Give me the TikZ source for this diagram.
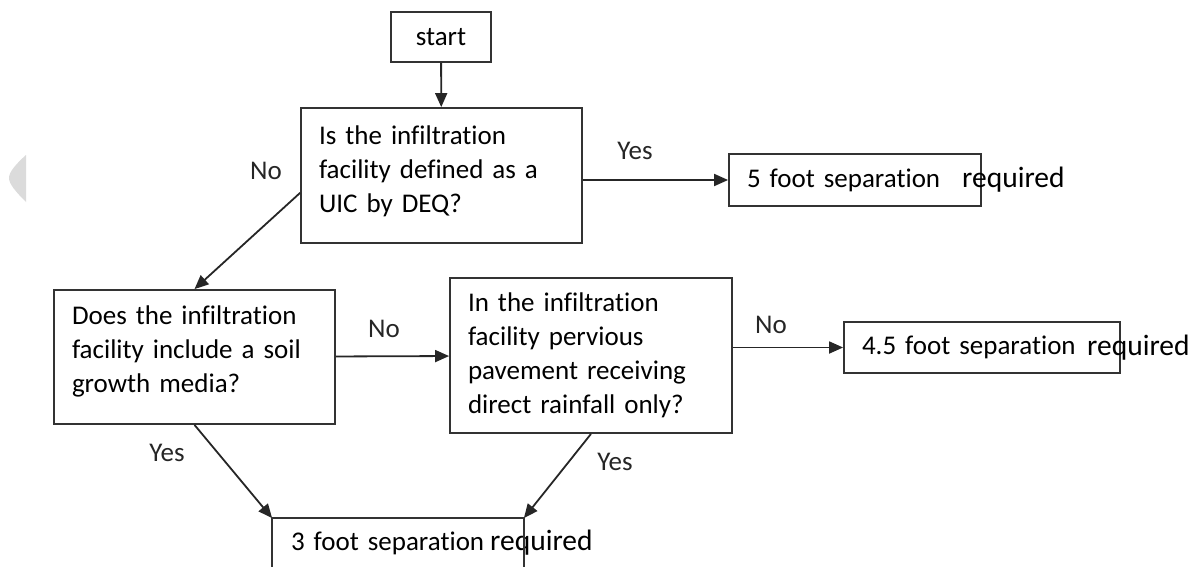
\documentclass[tikz,border=0pt]{standalone}
\usepackage{fontspec}
\setmainfont{Carlito}[Ligatures={NoCommon}]
\usepackage{tikz}
\usetikzlibrary{arrows.meta}

\begin{document}
\begin{tikzpicture}[x=1pt,y=-1pt,
	box/.style={draw=black!80,line width=1.8pt,align=left,inner xsep=18pt,inner ysep=0pt,font=\fontsize{27}{34}\selectfont},
	lift/.style={execute at end node={\endgraf\vspace*{#1}}},
	lbl/.style={inner sep=0pt,font=\fontsize{27}{34}\selectfont,text=black!85},
	req/.style={anchor=west,inner sep=0pt,font=\fontsize{29.5}{34}\selectfont},
	arr/.style={draw=black!85,line width=1.8pt,-{Triangle[length=14pt,width=12pt]}},
	]
	\useasboundingbox (0,0) rectangle (1201,567);
	\fill[black!14] (26,155) -- (26,202) .. controls (16,192) and (9,184) .. (9,178) .. controls (9,172) and (16,164) .. (26,155);

	\node[box,minimum width=100pt,minimum height=50pt,inner xsep=0pt,align=center] (S) at (441,37) {start};
	\node[box,lift=9pt,text width=245pt,minimum height=135pt] (Q1) at (441.5,175.5) {Is the infiltration\\facility defined as a\\UIC by DEQ?};
	\node[box,text width=216pt,minimum height=52pt] (R5) at (855,180) {5 foot separation};
	\node[box,lift=11pt,text width=245pt,minimum height=134pt] (Q2) at (194.5,357) {Does the infiltration\\facility include a soil\\growth media?};
	\node[box,text width=246pt,minimum height=155pt] (Q3) at (591,355.5) {In the infiltration\\facility pervious\\pavement receiving\\direct rainfall only?};
	\node[box,text width=240pt,minimum height=51pt] (R45) at (982,347.5) {4.5 foot separation};
	\node[box,draw=none,text width=214pt,minimum height=48pt] (R3) at (398,543) {3 foot separation};

	\node[req] (R5q) at (962,180) {required};
	\node[req] (R45q) at (1087,348) {required};
	\node[req] (R3q) at (490,543) {required};

	\node[lbl] (N1) at (266,171) {No};
	\node[lbl] (Y1) at (635,151) {Yes};
	\node[lbl] (N2) at (384,329) {No};
	\node[lbl] (N3) at (771,325) {No};
	\node[lbl] (Y2) at (167,453) {Yes};
	\node[lbl] (Y3) at (615,462) {Yes};

	\draw[arr] (S) -- (Q1);
	\draw[arr] (Q1.187) -- (Q2.north);
	\draw[arr] (Q1.east |- R5) -- (R5);
	\draw[arr] (Q2) -- (Q3);
	\draw[arr] (Q3.east |- R45) -- (R45);
	\draw[arr] (Q2.south) -- (R3.north west);
	\draw[arr] (Q3.south) -- (R3.north east);
	\draw[draw=black!80,line width=1.8pt] (R3.south west) -- (R3.north west) -- (R3.north east) -- (R3.south east);
\end{tikzpicture}
\end{document}
